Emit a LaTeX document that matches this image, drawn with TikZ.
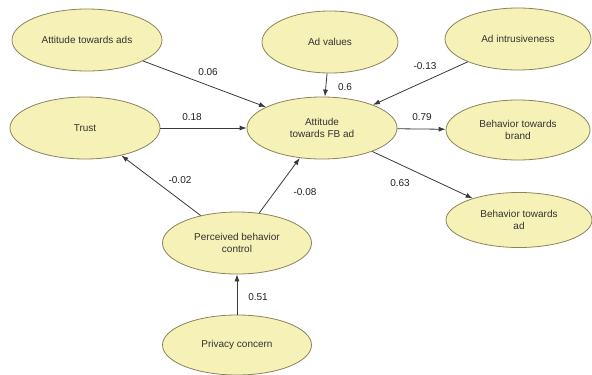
\documentclass[tikz,border=0pt]{standalone}
\usepackage{fontspec}
\setmainfont{Liberation Sans}
\usetikzlibrary{shapes.geometric,arrows.meta}
\definecolor{ConstructFill}{HTML}{F6F1B6}
\definecolor{ConstructLine}{HTML}{8A845A}
\definecolor{EffectLine}{HTML}{3A3A3A}
\definecolor{CoefText}{HTML}{222222}
\tikzset{
  construct/.style={ellipse,draw=ConstructLine,fill=ConstructFill,line width=.8pt,
    inner sep=0pt,minimum width=150,minimum height=62,align=center,
    text=black!80,font=\fontsize{10}{12}\selectfont},
  effect/.style={-{Latex[length=7pt,width=5pt]},EffectLine,line width=.8pt},
  coef/.style={text=CoefText,font=\fontsize{10}{12}\selectfont}
}

\begin{document}
\begin{tikzpicture}[x=1pt,y=-1pt]
\path[use as bounding box] (0,0) rectangle (592,375);
\fill[white] (0,0) rectangle (592,375);
% constructs
\node[construct] (ads) at (87,40) {Attitude towards ads};
\node[construct,minimum width=136] (values) at (330,42) {Ad values};
\node[construct,minimum width=146] (intrus) at (518,39) {Ad intrusiveness};
\node[construct] (trust) at (85,128) {Trust};
\node[construct] (fbad) at (322,128) {Attitude\\towards FB ad};
\node[construct,minimum width=144,minimum height=60] (brand) at (518,130)
      {Behavior towards\\brand};
\node[construct,minimum width=146,minimum height=55] (behad) at (519,220)
      {Behavior towards\\ad};
\node[construct,minimum width=149] (pbc) at (237,243)
      {Perceived behavior\\control};
\node[construct,minimum width=149,minimum height=60] (privacy) at (237,345)
      {Privacy concern};
% paths
\draw[effect] (ads) -- (fbad);
\draw[effect] (trust) -- (fbad);
\draw[effect] (values) -- (fbad);
\draw[effect] (intrus) -- (fbad);
\draw[effect] (fbad) -- (brand);
\draw[effect] (fbad) -- (behad);
\draw[effect] (pbc) -- (trust);
\draw[effect] (pbc) -- (fbad);
\draw[effect] (privacy) -- (pbc);
% coefficients
\node[coef] (c1) at (208,72) {0.06};
\node[coef] (c2) at (192,117) {0.18};
\node[coef] (c3) at (345,87) {0.6};
\node[coef] (c4) at (425,66) {-0.13};
\node[coef] (c5) at (422,117) {0.79};
\node[coef] (c6) at (400,183) {0.63};
\node[coef] (c7) at (180,180) {-0.02};
\node[coef] (c8) at (305,192) {-0.08};
\node[coef] (c9) at (258,297) {0.51};
\end{tikzpicture}
\end{document}
